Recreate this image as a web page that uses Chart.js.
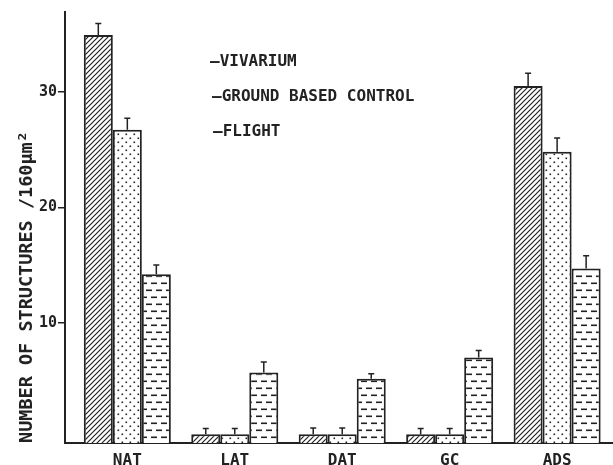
<!DOCTYPE html>
<html>
<head>
<meta charset="utf-8">
<script src="https://cdn.jsdelivr.net/npm/chart.js@4.4.1/dist/chart.umd.min.js"></script>
<style>
  html, body { margin: 0; padding: 0; background: #fff; }
  canvas { display: block; }
</style>
</head>
<body>
<canvas id="structures-chart" width="613" height="465"></canvas>
<script>
const categories = ['NAT', 'LAT', 'DAT', 'GC', 'ADS'];
const seriesNames = ['Vivarium', 'Ground based control', 'Flight'];

const vivarium = [34.9, 0.35, 0.35, 0.35, 30.5];
const groundControl = [26.7, 0.35, 0.35, 0.35, 24.8];
const flight = [14.2, 5.7, 5.15, 7.0, 14.7];

const vivariumErr = [1.0, 0.5, 0.55, 0.5, 1.1];
const groundControlErr = [1.0, 0.5, 0.55, 0.5, 1.2];
const flightErr = [0.8, 0.9, 0.45, 0.6, 1.1];

const yTicks = [10, 20, 30];

const Y_MIN = -0.4;
const Y_MAX = 36.9;
const INK = '#222';
const MONO = "'DejaVu Sans Mono', monospace";

const canvas = document.getElementById('structures-chart');

// little tiles for the hatch / dot / dash fills
const makePattern = (w, h, draw) => {
    const c = document.createElement('canvas');
    c.width = w;
    c.height = h;
    const g = c.getContext('2d');
    g.fillStyle = '#fff';
    g.fillRect(0, 0, w, h);
    g.strokeStyle = INK;
    g.fillStyle = INK;
    draw(g);
    return canvas.getContext('2d').createPattern(c, 'repeat');
};

const hatch = makePattern(5, 5, g => {
    g.lineWidth = 1.2;
    g.beginPath();
    g.moveTo(-1, 6); g.lineTo(6, -1);
    g.moveTo(-1, 1); g.lineTo(1, -1);
    g.moveTo(4, 6); g.lineTo(6, 4);
    g.stroke();
});

const dots = makePattern(8, 8, g => {
    g.fillRect(1.5, 1.5, 1.6, 1.6);
    g.fillRect(5.5, 5.5, 1.6, 1.6);
});

const dashes = makePattern(10, 14, g => {
    g.fillRect(1, 2.5, 6, 1.6);
    g.fillRect(6, 9.5, 4, 1.6);
    g.fillRect(0, 9.5, 2, 1.6);
});

const toPoints = values => values.map((v, i) => ({x: i, y: v}));

const errorBars = {
    id: 'errorBars',
    afterDatasetsDraw(chart) {
        const ctx = chart.ctx;
        const yScale = chart.scales.y;
        ctx.save();
        ctx.strokeStyle = INK;
        ctx.lineWidth = 1.5;
        chart.data.datasets.forEach((ds, di) => {
            chart.getDatasetMeta(di).data.forEach((bar, i) => {
                const top = yScale.getPixelForValue(ds.data[i].y + ds.errors[i]);
                ctx.beginPath();
                ctx.moveTo(bar.x, bar.y);
                ctx.lineTo(bar.x, top);
                ctx.moveTo(bar.x - 3, top);
                ctx.lineTo(bar.x + 3, top);
                ctx.stroke();
            });
        });
        ctx.restore();
    }
};

const textLegend = {
    id: 'textLegend',
    afterDraw(chart, args, opts) {
        const ctx = chart.ctx;
        ctx.save();
        ctx.font = opts.font;
        ctx.fillStyle = INK;
        ctx.textBaseline = 'middle';
        chart.data.datasets.forEach((ds, i) => {
            const [x, y] = opts.positions[i];
            ctx.fillText('\u2014' + ds.label.toUpperCase(), x, y);
        });
        ctx.restore();
    }
};

new Chart(canvas, {
    type: 'bar',
    data: {
        datasets: [
            {label: seriesNames[0], data: toPoints(vivarium), errors: vivariumErr, backgroundColor: hatch},
            {label: seriesNames[1], data: toPoints(groundControl), errors: groundControlErr, backgroundColor: dots},
            {label: seriesNames[2], data: toPoints(flight), errors: flightErr, backgroundColor: dashes},
        ]
    },
    options: {
        responsive: false,
        animation: false,
        layout: {padding: {top: 12, left: 0, right: 0, bottom: 0}},
        datasets: {
            bar: {
                categoryPercentage: 0.81,
                barPercentage: 1,
                borderColor: INK,
                borderWidth: 2,
                base: Y_MIN,
            }
        },
        scales: {
            x: {
                type: 'linear',
                offset: false,
                min: -0.58,
                max: 4.52,
                afterBuildTicks: s => { s.ticks = categories.map((c, i) => ({value: i})); },
                afterFit: s => { s.height = 22; },
                grid: {display: false},
                border: {display: true, color: INK, width: 2},
                ticks: {
                    autoSkip: false,
                    maxRotation: 0,
                    padding: 0,
                    color: INK,
                    font: {family: MONO, size: 16, weight: 'bold'},
                    callback: v => categories[v],
                },
            },
            y: {
                min: Y_MIN,
                max: Y_MAX,
                afterBuildTicks: s => { s.ticks = yTicks.map(v => ({value: v})); },
                afterFit: s => { s.width = 65; },
                grid: {drawOnChartArea: false, tickLength: 7, color: INK, lineWidth: 1.5},
                border: {color: INK, width: 2},
                ticks: {
                    padding: 1,
                    color: INK,
                    font: {family: MONO, size: 15, weight: 'bold'},
                },
                title: {
                    display: true,
                    text: 'NUMBER OF STRUCTURES /160\u03bcm\u00b2',
                    align: 'start',
                    color: INK,
                    padding: {top: 16, bottom: 0},
                    font: {family: MONO, size: 18.5, weight: 'bold'},
                },
            },
        },
        plugins: {
            legend: {display: false},
            tooltip: {enabled: false},
            textLegend: {
                font: 'bold 16px ' + MONO,
                positions: [[210, 62], [212, 97], [213, 132]],
            },
        },
    },
    plugins: [errorBars, textLegend],
});
</script>
</body>
</html>
